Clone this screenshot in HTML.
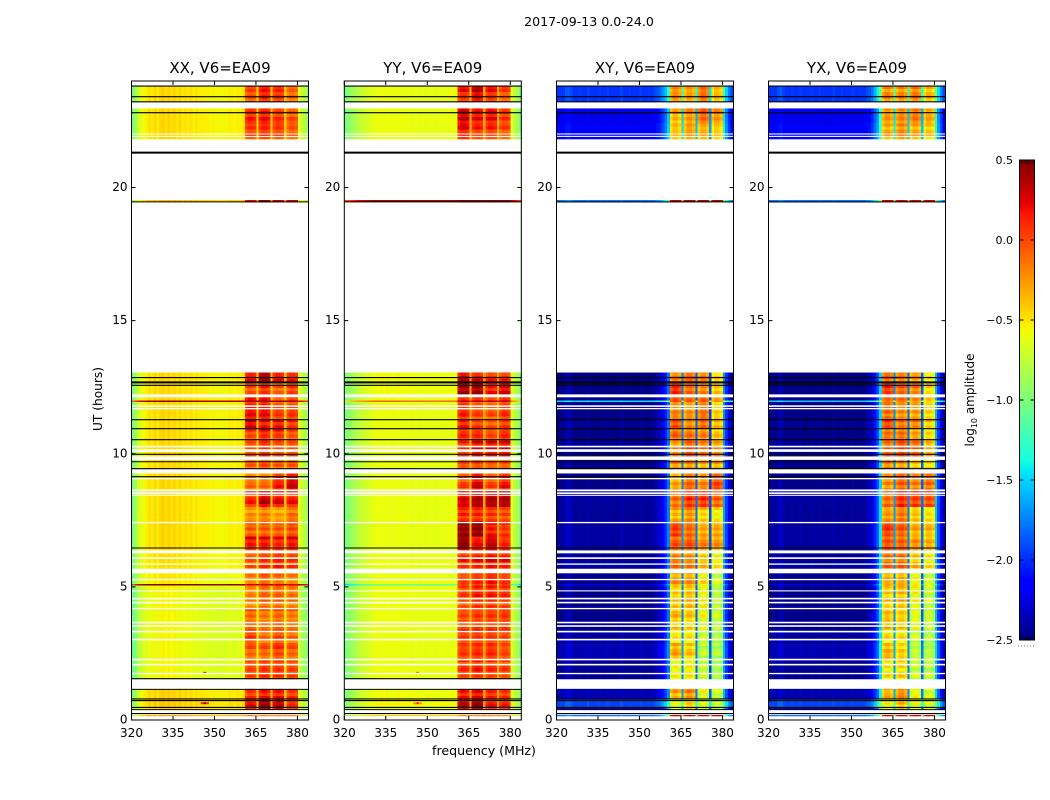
<!DOCTYPE html>
<html lang="en">
<head>
<meta charset="utf-8">
<title>2017-09-13 0.0-24.0</title>
<style>
html,body{margin:0;padding:0;background:#fff;width:1050px;height:800px;overflow:hidden}
svg{display:block}
text{font-family:"DejaVu Sans","Liberation Sans",sans-serif;fill:#000}
</style>
</head>
<body>
<svg id="chart" xmlns="http://www.w3.org/2000/svg" width="1050" height="800" viewBox="0 0 1050 800">
<rect width="1050" height="800" fill="#fff"></rect>
<text x="589" y="26" font-size="12.6" text-anchor="middle">2017-09-13 0.0-24.0</text>
<text x="0" y="0" font-size="12.2" text-anchor="middle" transform="translate(102 399) rotate(-90)">UT (hours)</text>
<text x="484" y="755" font-size="12.6" text-anchor="middle">frequency (MHz)</text>
<text x="0" y="0" font-size="12" text-anchor="middle" transform="translate(974 400) rotate(-90)">log<tspan font-size="8" dy="3">10</tspan><tspan dy="-3"> amplitude</tspan></text>
</svg>
<script>
const panelTitles = ["XX, V6=EA09", "YY, V6=EA09", "XY, V6=EA09", "YX, V6=EA09"];
const xTicks = [320, 335, 350, 365, 380];
const yTicks = [0, 5, 10, 15, 20];
const colorTicks = [-2.5, -2.0, -1.5, -1.0, -0.5, 0.0, 0.5];
const firstChannel = 320;
const bandStarts = [361, 366, 371, 376];
const bandShapeXX = [-0.08, 0, 0, -0.05];
const bandShapeYY = [-0.08, 0, 0, -0.05];
const bandShapeXY = [-0.14, 0, 0, -0.1];
const bandShapeYX = [-0.14, 0, 0, -0.1];
const rowRipple = [0, .08, -.06, .1, -.1, .04, .12, -.08, .02, -.12, .06, -.04];

// Isolated bright or dark samples seen in the co-polar panels.
const spotFreqs = [346, 345, 346, 347];
const spotHours = [1.77, 0.63, 0.63, 0.63];
const spotValuesXX = [0.2, 0.1, 0.45, 0.1];
const spotValuesYY = [-0.1, -0.2, 0.1, -0.2];

// Descending time boundaries (UT hours) of the blocks with distinct levels.
const blockEdges = [23.81,23.0,22.4,19.53,19.48,12.7,12.12,12.0,11.95,11.3,10.95,10.5,9.85,9.26,8.6,8.0,7.45,6.9,6.4,5.6,5.11,5.05,4.2,3.4,2.9,2.3,1.35,0.79,0.47,0.19,0.14];

// Spectral base level (log10 amplitude) for channels 320..383.
const profileXX = [-1.0,-.85,-.7,-.62,-.57,-.53,-.48,-.53,-.45,-.53,-.45,-.43,-.48,-.43,-.48,-.45,-.5,-.45,-.52,-.48,-.52,-.48,-.54,-.5,-.54,-.52,-.54,-.54,-.56,-.54,-.56,-.56,-.56,-.56,-.56,-.52,-.54,-.56,-.52,-.54,-.5,-.45,-.5,-.45,-.48,-.45,-.4,-.45,-.4,-.42,-.4,-.45,-.42,-.4,-.45,-.4,-.42,-.42,-.4,-.45,-.6,-.7,-.78,-.85];
const profileYY = [-1.0,-.95,-.9,-.85,-.8,-.76,-.72,-.69,-.66,-.64,-.62,-.6,-.6,-.58,-.6,-.58,-.6,-.6,-.6,-.58,-.6,-.6,-.6,-.6,-.62,-.6,-.6,-.62,-.6,-.62,-.62,-.6,-.62,-.62,-.6,-.6,-.62,-.6,-.6,-.62,-.6,-.58,-.58,-.58,-.55,-.35,-.4,-.4,-.4,-.4,-.3,-.4,-.4,-.4,-.4,-.32,-.4,-.4,-.4,-.4,-.65,-.75,-.85,-.95];
const profileXY = [-2.48,-2.46,-2.48,-2.38,-2.36,-2.42,-2.48,-2.48,-2.46,-2.48,-2.48,-2.42,-2.48,-2.48,-2.48,-2.46,-2.48,-2.48,-2.44,-2.48,-2.48,-2.48,-2.48,-2.42,-2.48,-2.48,-2.46,-2.48,-2.48,-2.48,-2.44,-2.48,-2.48,-2.46,-2.48,-2.42,-2.38,-2.32,-2.2,-2.05,-1.8,-1.5,-1.5,-1.5,-1.5,-1.75,-1.5,-1.5,-1.5,-1.5,-1.85,-1.5,-1.5,-1.5,-1.5,-1.95,-1.5,-1.5,-1.5,-1.5,-1.7,-2.0,-2.25,-2.42];
const profileYX = [-2.48,-2.46,-2.48,-2.4,-2.36,-2.44,-2.48,-2.48,-2.46,-2.48,-2.48,-2.44,-2.48,-2.48,-2.48,-2.46,-2.48,-2.48,-2.45,-2.48,-2.48,-2.48,-2.48,-2.44,-2.48,-2.48,-2.46,-2.48,-2.48,-2.48,-2.45,-2.48,-2.48,-2.46,-2.48,-2.42,-2.38,-2.28,-2.1,-1.9,-1.5,-1.5,-1.5,-1.5,-1.5,-1.7,-1.5,-1.5,-1.5,-1.5,-1.8,-1.5,-1.5,-1.5,-1.5,-1.85,-1.5,-1.5,-1.5,-1.5,-1.6,-1.95,-2.2,-2.42];

// Per time block: [offset for out-of-band channels, sub-band 1, 2, 3, 4 levels].
const levelsXX = [[0,0,.15,.1,-.1],[0,.15,.2,.1,0],[0,.05,.1,.05,-.05],[.1,.2,.45,.3,.3],[0,.2,.4,.2,.15],[0,0,.1,-.05,.05],[0,.3,.3,0,.1],[.9,.4,.4,.4,.4],[0,.2,.2,.05,.05],[0,.3,.2,.2,.1],[0,.05,.15,.1,0],[0,0,.1,0,0],[0,-.1,-.05,-.1,-.1],[0,-.1,-.1,.15,.3],[0,.1,.3,.2,.15],[0,-.2,-.15,-.25,-.1],[0,-.05,-.05,-.05,0],[0,.2,.2,.15,.2],[-.02,-.05,.05,.1,.05],[-.05,-.2,-.1,-.15,-.2],[1,.4,.4,.4,.4],[-.1,-.2,-.1,-.1,-.15],[-.1,-.05,-.1,-.05,-.1],[-.1,.05,-.1,0,-.1],[-.1,-.05,-.05,.05,-.05],[-.1,0,.05,.05,0],[.02,.1,.2,.2,.1],[.05,.2,.4,.3,.1],[.02,.2,.4,.3,.1],[.15,-.1,-.1,-.1,-.1]];
const levelsYY = [[0,.15,.3,.15,0],[0,.3,.2,.2,.05],[0,.2,.1,.1,0],[1,.45,.45,.45,.45],[.02,.3,.2,.1,.1],[.02,.45,.45,.2,.3],[0,.1,.1,0,.1],[.5,.3,.3,.3,.3],[0,.1,0,-.05,.05],[0,.2,.1,0,.1],[0,.1,.1,0,.1],[0,.1,.25,.25,.25],[0,0,0,-.05,-.05],[0,0,.25,0,.15],[0,.3,.4,.4,.4],[0,.1,.1,.05,0],[0,.5,.5,.2,.1],[0,.45,.2,.3,.1],[0,.1,.15,.2,.15],[0,0,.1,.15,.05],[-.5,.1,.1,.1,.1],[0,0,.1,.1,.05],[0,0,.05,.05,.05],[0,.1,.1,.1,.05],[0,.05,.1,.1,0],[0,.05,.1,.05,0],[.02,.15,.2,.1,.05],[.04,.3,.4,.15,.1],[.02,.3,.4,.15,.1],[.15,-.1,-.1,-.1,-.1]];
const levelsXY = [[.5,-.2,-.25,-.1,-.35],[.25,-.3,-.2,-.05,-.2],[.3,-.35,-.25,-.3,-.4],[.7,.45,.45,.45,.45],[0,-.1,0,-.1,-.4],[0,.1,-.1,-.2,-.4],[0,-.05,-.1,-.1,-.3],[1,-.05,-.1,-.1,-.3],[0,-.15,-.2,-.1,-.4],[.02,0,-.2,-.1,-.35],[0,-.1,-.15,-.2,-.4],[.02,-.2,0,-.1,-.2],[0,-.2,-.2,-.3,-.3],[0,-.25,-.05,-.15,.05],[.05,-.1,.1,.1,-.05],[.04,-.3,-.2,-.4,-.5],[.06,.05,-.1,-.3,-.3],[.06,-.05,-.05,-.2,-.25],[.03,-.1,-.15,-.35,-.5],[0,-.25,-.25,-.5,-.7],[.2,-.25,-.25,-.5,-.7],[0,-.4,-.35,-.55,-.75],[0,-.35,-.4,-.6,-.7],[.05,-.5,-.5,-.7,-.8],[.1,-.3,-.4,-.75,-.8],[.02,-.55,-.5,-.7,-.8],[.1,-.3,-.2,-.6,-.7],[.55,-.6,-.4,-.65,-.7],[.15,-.6,-.4,-.65,-.7],[.7,.4,.4,.4,.4]];
const levelsYX = [[.5,-.2,-.2,-.15,-.35],[.25,-.25,-.2,-.15,-.3],[.3,-.3,-.2,-.3,-.4],[.7,.45,.45,.45,.45],[0,-.05,-.1,-.2,-.5],[0,.1,-.05,-.15,-.45],[0,-.1,-.1,-.2,-.4],[.95,-.1,-.1,-.2,-.4],[0,-.1,-.2,-.25,-.45],[.02,.05,-.1,-.15,-.4],[0,-.1,-.1,-.25,-.45],[.02,-.1,0,-.1,-.35],[0,-.15,-.2,-.35,-.45],[0,-.2,-.05,-.15,-.1],[.05,-.05,.15,.1,.05],[.04,-.25,-.15,-.4,-.5],[.06,.05,-.05,-.3,-.35],[.06,0,-.05,-.2,-.3],[.03,-.1,-.1,-.35,-.5],[0,-.25,-.25,-.5,-.65],[.2,-.25,-.25,-.5,-.65],[0,-.4,-.35,-.55,-.7],[0,-.35,-.4,-.6,-.7],[.05,-.5,-.5,-.7,-.8],[.1,-.3,-.4,-.7,-.75],[.02,-.5,-.45,-.7,-.75],[.1,-.3,-.2,-.55,-.65],[.55,-.55,-.35,-.6,-.65],[.15,-.55,-.35,-.6,-.65],[.7,.4,.4,.4,.4]];

// Empty time ranges [start, end] in UT hours.
const gapStarts = [24,23.22,22.03,21.94,21.81,19.44,12.23,11.82,11.72,10.30,10.17,9.90,9.43,9.09,8.66,8.55,8.46,7.44,6.37,6.11,5.88,5.68,5.30,4.87,4.59,4.44,4.21,3.69,3.56,3.35,3.05,2.30,2.11,1.77,1.53,0.40,0.14];
const gapEnds = [23.81,22.97,21.99,21.90,19.53,13.05,12.12,11.76,11.67,10.24,10.07,9.77,9.26,9.04,8.59,8.49,8.42,7.39,6.26,6.05,5.83,5.51,5.25,4.83,4.53,4.38,4.16,3.63,3.50,3.29,2.99,2.24,2.05,1.72,1.17,0.19,0];

// Flagged integrations (UT hours).
const flagLinesAll = [23.81,23.41,23.22,22.81,19.46,12.86,12.57,11.28,10.94,10.53,9.98,9.70,9.44,9.14,6.46,0.79,0.73,0.47,0.39,0.24];
const flagLinesThick = [21.31,12.68];
const flagLinesParallel = [1.55,1.15];

const panelLefts = [131.5, 344.3, 556.5, 768.5];
const panelProfiles = [profileXX, profileYY, profileXY, profileYX];
const panelLevels = [levelsXX, levelsYY, levelsXY, levelsYX];
const panelShapes = [bandShapeXX, bandShapeYY, bandShapeXY, bandShapeYX];
const panelSpots = [spotValuesXX, spotValuesYY, [], []];

const svgNS = "http://www.w3.org/2000/svg";
const root = document.getElementById("chart");
const PANEL_W = 177, PLOT_TOP = 81, PLOT_BOTTOM = 720, ROW_PX = 3;
const xAxis = (left, f) => left + (f - 320) * PANEL_W / 64;
const yAxis = h => PLOT_BOTTOM - h * (PLOT_BOTTOM - PLOT_TOP) / 24;

function clamp01(v) { return Math.max(0, Math.min(1, v)); }
function ramp(f, stops) {
  for (let i = 1; i < stops.length; i++) {
    if (f <= stops[i][0]) {
      const a = stops[i - 1], b = stops[i];
      return a[1] + (b[1] - a[1]) * (f - a[0]) / (b[0] - a[0]);
    }
  }
  return stops[stops.length - 1][1];
}
function jet(v) {
  const f = clamp01((v + 2.5) / 3);
  const r = ramp(f, [[0,0],[.35,0],[.66,1],[.89,1],[1,.5]]);
  const g = ramp(f, [[0,0],[.125,0],[.375,1],[.64,1],[.91,0],[1,0]]);
  const b = ramp(f, [[0,.5],[.11,1],[.34,1],[.65,0],[1,0]]);
  return "rgb(" + Math.round(r * 255) + "," + Math.round(g * 255) + "," + Math.round(b * 255) + ")";
}
function make(tag, attrs, parent) {
  const el = document.createElementNS(svgNS, tag);
  for (const k in attrs) el.setAttribute(k, attrs[k]);
  parent.appendChild(el);
  return el;
}
function bandOf(p, freq) {
  for (let s = 0; s < bandStarts.length; s++) {
    const o = freq - bandStarts[s];
    if (o >= 0 && o < panelShapes[p].length) return {s: s, o: o};
  }
  return null;
}
function insideGap(yTop, yBottom) {
  return gapStarts.some((start, i) => yAxis(start) <= yTop && yAxis(gapEnds[i]) >= yBottom);
}
function fmtTick(v) { return (v < 0 ? "\u2212" : "") + Math.abs(v).toFixed(1); }

let rippleIndex = 0;
panelTitles.forEach((title, p) => {
  const left = panelLefts[p];
  const g = make("g", {}, root);
  
  

  const t = make("text", {x: left + PANEL_W / 2, y: 73, "font-size": 15, "text-anchor": "middle"}, g);
  
  
  t.textContent = title;

  const cells = make("g", {"shape-rendering": "crispEdges"}, g);
  
  
  const count = panelProfiles[p].length;
  for (let b = 0; b < blockEdges.length - 1; b++) {
    const y0 = yAxis(blockEdges[b]), y1 = yAxis(blockEdges[b + 1]);
    const lv = panelLevels[p][b];
    const rows = Math.max(1, Math.round((y1 - y0) / ROW_PX));
    const rowH = (y1 - y0) / rows;
    for (let ch = 0; ch < count; ch++) {
      const freq = firstChannel + ch;
      const x0 = xAxis(left, freq), x1 = xAxis(left, freq + 1);
      const band = bandOf(p, freq);
      if (!band) {
        const cell = make("rect", {x: x0, y: y0, width: x1 - x0 + .5, height: Math.max(y1 - y0, 1), fill: jet(panelProfiles[p][ch] + lv[0])}, cells);
        
        
      }
    }
    for (let r = 0; r < rows; r++) {
      const ry = y0 + r * rowH;
      const ripple = rowRipple[rippleIndex % rowRipple.length];
      rippleIndex++;
      if (insideGap(ry, ry + rowH)) continue;
      for (let ch = 0; ch < count; ch++) {
        const freq = firstChannel + ch;
        const band = bandOf(p, freq);
        if (!band) continue;
        const x0 = xAxis(left, freq), x1 = xAxis(left, freq + 1);
        const value = lv[band.s + 1] + panelShapes[p][band.o] + ripple;
        const cell = make("rect", {x: x0, y: ry, width: x1 - x0 + .5, height: Math.max(rowH, 1), fill: jet(value)}, cells);
        
        
      }
    }
  }

  panelSpots[p].forEach((value, i) => {
    const x0 = xAxis(left, spotFreqs[i]), x1 = xAxis(left, spotFreqs[i] + 1);
    const spot = make("rect", {x: x0, y: yAxis(spotHours[i]) - 1, width: x1 - x0, height: 2, fill: jet(value)}, g);
    
    
  });

  gapStarts.forEach((start, i) => {
    const y0 = yAxis(start), y1 = yAxis(gapEnds[i]);
    const gap = make("rect", {x: left, y: y0, width: PANEL_W, height: y1 - y0, fill: "#fff"}, g);
    
    
  });

  const drawFlag = (h, w) => {
    const line = make("line", {x1: left, x2: left + PANEL_W, y1: yAxis(h), y2: yAxis(h), stroke: "#000", "stroke-width": w}, g);
    
    
  };
  flagLinesAll.forEach(h => drawFlag(h, 1.1));
  flagLinesThick.forEach(h => drawFlag(h, 2));
  if (p < 2) flagLinesParallel.forEach(h => drawFlag(h, 1.1));

  const frame = make("rect", {x: left, y: PLOT_TOP, width: PANEL_W, height: PLOT_BOTTOM - PLOT_TOP, fill: "none", stroke: "#000", "stroke-width": 1}, g);
  
  

  xTicks.forEach(v => {
    const x = xAxis(left, v);
    [[PLOT_BOTTOM, PLOT_BOTTOM - 4], [PLOT_TOP, PLOT_TOP + 4]].forEach(pair => {
      const tick = make("line", {x1: x, x2: x, y1: pair[0], y2: pair[1], stroke: "#000", "stroke-width": 1}, g);
      
      
    });
    const lab = make("text", {x: x, y: 737, "font-size": 12, "text-anchor": "middle"}, g);
    
    
    lab.textContent = v;
  });
  yTicks.forEach(v => {
    const y = yAxis(v);
    [[left, left + 4], [left + PANEL_W, left + PANEL_W - 4]].forEach(pair => {
      const tick = make("line", {x1: pair[0], x2: pair[1], y1: y, y2: y, stroke: "#000", "stroke-width": 1}, g);
      
      
    });
    const lab = make("text", {x: left - 4, y: y + 3.5, "font-size": 12, "text-anchor": "end"}, g);
    
    
    lab.textContent = v;
  });
});

// Colorbar
const CB_X = 1019.5, CB_W = 15, CB_TOP = 160, CB_BOTTOM = 640, CB_MIN = colorTicks[0], CB_MAX = colorTicks[colorTicks.length - 1];
const cbY = v => CB_BOTTOM - (v - CB_MIN) / (CB_MAX - CB_MIN) * (CB_BOTTOM - CB_TOP);
const cb = make("g", {}, root);


const cbSteps = 240;
for (let i = 0; i < cbSteps; i++) {
  const v0 = CB_MIN + (CB_MAX - CB_MIN) * i / cbSteps;
  const v1 = CB_MIN + (CB_MAX - CB_MIN) * (i + 1) / cbSteps;
  const seg = make("rect", {x: CB_X, y: cbY(v1), width: CB_W, height: cbY(v0) - cbY(v1) + .5, fill: jet((v0 + v1) / 2), "shape-rendering": "crispEdges"}, cb);
  
  
}
for (let i = 0; i < 5; i++) {
  const x = CB_X + 2.5 + i * 2.5;
  [[CB_TOP, CB_TOP + 4], [CB_BOTTOM, CB_BOTTOM - 4]].forEach(pair => {
    const tick = make("line", {x1: x, x2: x, y1: pair[0], y2: pair[1], stroke: "#000", "stroke-width": .7}, cb);
    
    
  });
}
const cbFrame = make("rect", {x: CB_X, y: CB_TOP, width: CB_W, height: CB_BOTTOM - CB_TOP, fill: "none", stroke: "#000", "stroke-width": 1}, cb);


colorTicks.forEach(v => {
  const y = cbY(v);
  [[CB_X, CB_X + 4], [CB_X + CB_W, CB_X + CB_W - 4]].forEach(pair => {
    const tick = make("line", {x1: pair[0], x2: pair[1], y1: y, y2: y, stroke: "#000", "stroke-width": 1}, cb);
    
    
  });
  const lab = make("text", {x: 1013, y: y + 4, "font-size": 11, "text-anchor": "end"}, cb);
  
  
  lab.textContent = fmtTick(v);
});
const dots = make("line", {x1: 1018, x2: 1035, y1: 646, y2: 646, stroke: "#777", "stroke-width": 1, "stroke-dasharray": "1 2"}, cb);


</script>
</body>
</html>
